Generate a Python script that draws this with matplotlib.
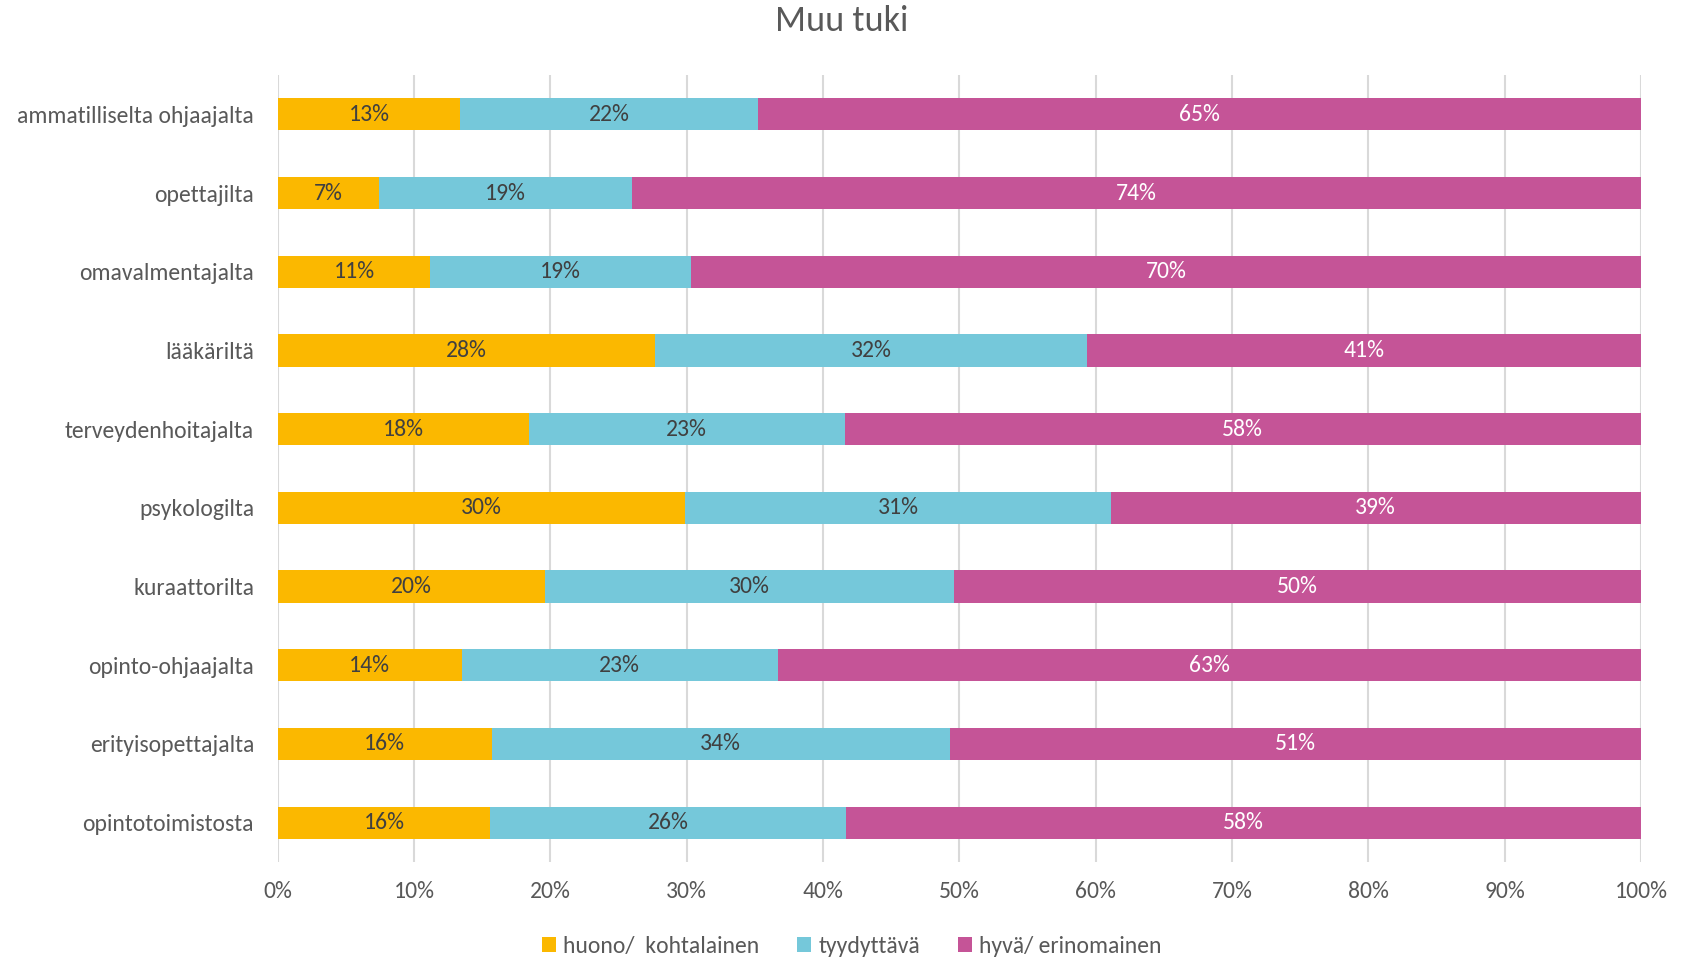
import matplotlib
matplotlib.use("Agg")
import matplotlib.pyplot as plt
import numpy as np

categories = ["ammatilliselta ohjaajalta", "opettajilta", "omavalmentajalta", "lääkäriltä",
              "terveydenhoitajalta", "psykologilta", "kuraattorilta", "opinto-ohjaajalta",
              "erityisopettajalta", "opintotoimistosta"]
huono = [13.4, 7.4, 11.2, 27.7, 18.4, 29.9, 19.6, 13.5, 15.7, 15.6]
tyydyttava = [21.8, 18.6, 19.1, 31.7, 23.2, 31.2, 30.0, 23.2, 33.6, 26.1]
hyva = [64.8, 74.0, 69.7, 40.6, 58.4, 38.9, 50.4, 63.3, 50.7, 58.3]
series_names = ["huono/  kohtalainen", "tyydyttävä", "hyvä/ erinomainen"]
colors = ["#FBB800", "#75C8DA", "#C55497"]
text_colors = ["#404040", "#404040", "#FFFFFF"]

plt.rcParams['font.family'] = ['Carlito', 'Lato', 'DejaVu Sans']

fig = plt.figure(figsize=(16.83, 9.61), dpi=100)
ax = fig.add_axes([0.165, 0.103, 0.81, 0.819])

y = np.arange(len(categories))
left = np.zeros(len(categories))
for vals, name, c, tc in zip([huono, tyydyttava, hyva], series_names, colors, text_colors):
    vals = np.array(vals)
    ax.barh(y, vals, left=left, height=0.41, color=c, label=name, zorder=3)
    for yi, l, v in zip(y, left, vals):
        ax.text(l + v / 2, yi, f"{v:.0f}%", ha="center", va="center", color=tc,
                fontsize=17, zorder=4)
    left += vals

ax.set_xlim(0, 100)
ax.set_ylim(len(categories) - 0.5, -0.5)
ax.set_yticks(y)
ax.set_yticklabels(categories, fontsize=17, color="#595959")
ax.set_xticks(np.arange(0, 101, 10))
ax.set_xticklabels([f"{t}%" for t in range(0, 101, 10)], fontsize=17, color="#595959")
ax.tick_params(axis="both", length=0)
ax.tick_params(axis="x", pad=14)
ax.tick_params(axis="y", pad=17)
ax.xaxis.grid(True, color="#D9D9D9", linewidth=1.5, zorder=0)
for s in ax.spines.values():
    s.set_visible(False)

fig.suptitle("Muu tuki", fontsize=26, color="#595959", y=0.995)

handles, labels = ax.get_legend_handles_labels()
fig.legend(handles, labels, loc="lower center", ncol=3, frameon=False, fontsize=17,
           bbox_to_anchor=(0.506, -0.018), handlelength=0.6, handleheight=0.6,
           handletextpad=0.3, columnspacing=1.6, labelcolor="#595959")

fig.savefig("out.png", dpi=100)
